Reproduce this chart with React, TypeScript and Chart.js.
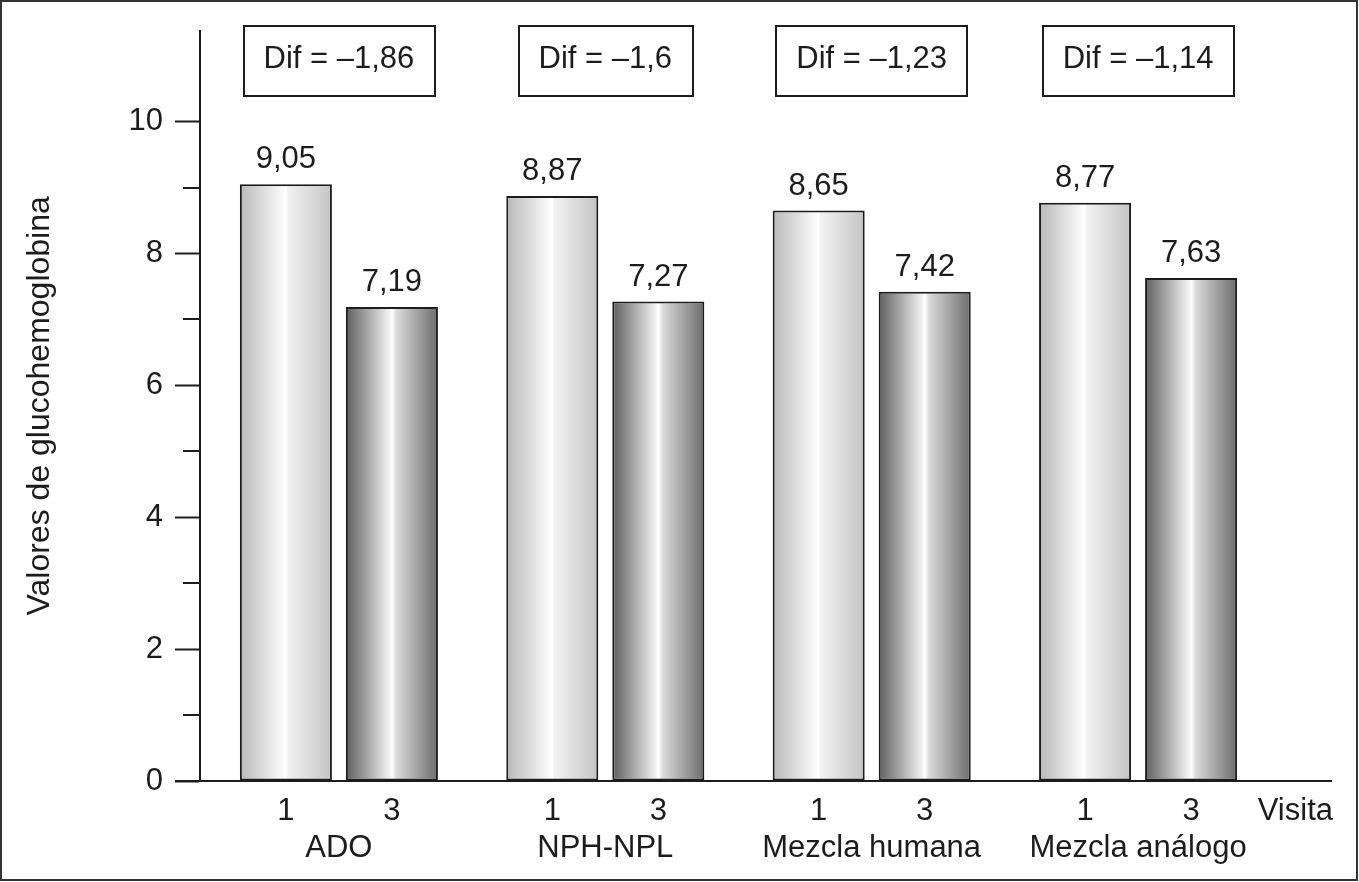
import React, { useEffect, useRef } from "react";
import { Chart, registerables } from "chart.js";

Chart.register(...registerables);

const categories = ["ADO", "NPH-NPL", "Mezcla humana", "Mezcla análogo"];
const visitLabels = ["1", "3"];
const visit1 = [9.05, 8.87, 8.65, 8.77];
const visit3 = [7.19, 7.27, 7.42, 7.63];
const diffs = [-1.86, -1.6, -1.23, -1.14];
const yTicks = [0, 2, 4, 6, 8, 10];
const yTitle = "Valores de glucohemoglobina";
const xTitle = "Visita";

const FONT = "'Liberation Sans', Arial, Helvetica, sans-serif";
const FS = 31;
const INK = "#1c1c1c";

const fmt = (v: number) => v.toFixed(2).replace(".", ",");
const fmtDiff = (v: number) => (v < 0 ? "\u2013" : "") + String(Math.abs(v)).replace(".", ",");

const gradientStops = [
  [
    [0, "#b8b8b8"],
    [0.5, "#ffffff"],
    [0.52, "#f2f2f2"],
    [1, "#c4c4c4"],
  ],
  [
    [0, "#5e5e5e"],
    [0.48, "#f4f4f4"],
    [0.5, "#ffffff"],
    [0.55, "#dadada"],
    [1, "#6c6c6c"],
  ],
];

const decorPlugin = {
  id: "decor",
  beforeDatasetsDraw(chart: any) {
    const ctx = chart.ctx;
    chart.data.datasets.forEach((ds: any, di: number) => {
      const meta = chart.getDatasetMeta(di);
      meta.data.forEach((el: any) => {
        const left = el.x - el.width / 2;
        const right = el.x + el.width / 2;
        const g = ctx.createLinearGradient(left, 0, right, 0);
        gradientStops[di].forEach(([o, c]: any) => g.addColorStop(o, c));
        el.options = { ...el.options, backgroundColor: g };
      });
    });
  },
  afterDraw(chart: any) {
    const ctx = chart.ctx;
    const y = chart.scales.y;
    const area = chart.chartArea;
    const y0 = y.getPixelForValue(0);
    ctx.save();
    ctx.strokeStyle = INK;
    ctx.lineWidth = 2;
    for (let v = 1; v < 10; v += 2) {
      const py = Math.round(y.getPixelForValue(v));
      ctx.beginPath();
      ctx.moveTo(area.left - 17, py);
      ctx.lineTo(area.left, py);
      ctx.stroke();
    }
    ctx.beginPath();
    ctx.moveTo(area.left - 25, Math.round(y0));
    ctx.lineTo(1332, Math.round(y0));
    ctx.stroke();

    ctx.fillStyle = INK;
    ctx.font = `${FS}px ${FONT}`;
    ctx.textAlign = "center";
    ctx.textBaseline = "alphabetic";
    const m0 = chart.getDatasetMeta(0);
    const m1 = chart.getDatasetMeta(1);
    [m0, m1].forEach((meta: any, di: number) => {
      const vals = di === 0 ? visit1 : visit3;
      meta.data.forEach((el: any, i: number) => {
        ctx.fillText(fmt(vals[i]), el.x, el.y - 16);
        ctx.fillText(visitLabels[di], el.x, 820);
      });
    });
    categories.forEach((c, i) => {
      const cx = (m0.data[i].x + m1.data[i].x) / 2;
      ctx.fillText(c, cx, 857);
      const t = `Dif = ${fmtDiff(diffs[i])}`;
      const w = ctx.measureText(t).width + 40;
      ctx.strokeRect(Math.round(cx - w / 2), 26, Math.round(w), 70);
      ctx.fillText(t, cx, 68);
    });
    ctx.textAlign = "right";
    ctx.fillText(xTitle, 1333, 820);
    ctx.strokeStyle = "#333";
    ctx.lineWidth = 2;
    ctx.strokeRect(1, 1, 1356, 879);
    ctx.restore();
  },
};

export default function App() {
  const ref = useRef<HTMLCanvasElement>(null);
  useEffect(() => {
    if (!ref.current) return;
    const chart = new Chart(ref.current, {
      type: "bar",
      data: {
        labels: categories,
        datasets: [
          {
            label: visitLabels[0],
            data: visit1.map((v, i) => ({ x: i, y: v })),
            backgroundColor: "#dddddd",
            borderColor: INK,
            borderWidth: 2,
            borderSkipped: false,
          },
          {
            label: visitLabels[1],
            data: visit3.map((v, i) => ({ x: i, y: v })),
            backgroundColor: "#999999",
            borderColor: INK,
            borderWidth: 2,
            borderSkipped: false,
          },
        ],
      },
      options: {
        animation: false,
        responsive: false,
        devicePixelRatio: 1,
        events: [],
        layout: { padding: { left: 10, top: 30, right: 74.4, bottom: 101 } },
        datasets: { bar: { categoryPercentage: 0.796, barPercentage: 0.868 } },
        plugins: { legend: { display: false }, tooltip: { enabled: false } },
        scales: {
          x: {
            type: "linear",
            display: false,
            offset: false,
            min: -0.5214,
            max: 3.55,
            afterBuildTicks: (s: any) => {
              s.ticks = categories.map((_, i) => ({ value: i }));
            },
          },
          y: {
            min: 0,
            max: 11.38,
            afterFit: (s: any) => {
              s.width = 190;
            },
            afterBuildTicks: (s: any) => {
              s.ticks = yTicks.map((v) => ({ value: v }));
            },
            ticks: {
              stepSize: 2,
              includeBounds: false,
              color: INK,
              padding: 12,
              font: { size: FS, family: FONT },
            },
            grid: {
              drawOnChartArea: false,
              tickLength: 25,
              tickColor: INK,
              tickWidth: 2,
            },
            border: { display: true, color: INK, width: 2 },
            title: {
              display: true,
              text: yTitle,
              color: INK,
              font: { size: 32, family: FONT },
              padding: { top: 11, bottom: 0 },
            },
          },
        },
      },
      plugins: [decorPlugin],
    });
    return () => chart.destroy();
  }, []);
  return (
    <div style={{ position: "fixed", left: 0, top: 0, width: 1359, height: 882, background: "#fff" }}>
      <canvas ref={ref} width={1359} height={882} style={{ display: "block" }} />
    </div>
  );
}
